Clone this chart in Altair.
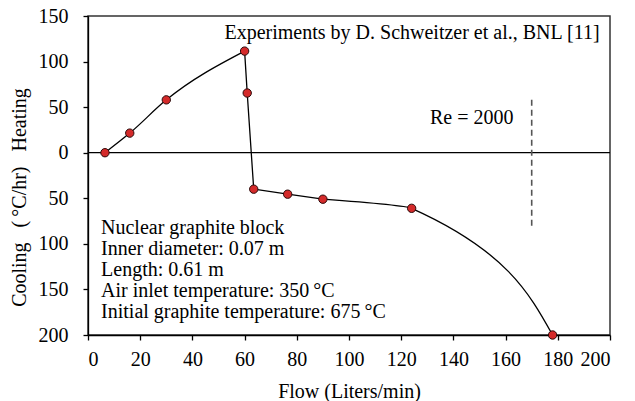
import altair as alt
import pandas as pd

# Data
flow = [6.5, 16, 30, 60, 61, 63.5, 76.5, 90, 124, 178]
rate = [0, 21.5, 58, 111.5, 65.5, -40, -45.5, -51, -61, -200]

y_ticks = [-200, -150, -100, -50, 0, 50, 100, 150]
x_ticks = [0, 20, 40, 60, 80, 100, 120, 140, 160, 180, 200]

re_x = [170]
re_y_top = [58]
re_y_bottom = [-84]

title_text = ["Experiments by D. Schweitzer et al., BNL [11]"]
re_text = ["Re = 2000"]
info_text = ["Nuclear graphite block\nInner diameter: 0.07 m\nLength: 0.61 m\nAir inlet temperature: 350\u2009°C\nInitial graphite temperature: 675\u2009°C"]

FONT = "Liberation Serif"
FS = 20

df = pd.DataFrame({"flow": flow, "rate": rate})
# curve pieces (same measured points, split where the drawn curve changes character)
rise = df.iloc[0:4]
drop = df.iloc[3:6]
flat = df.iloc[5:8]
tail = df.iloc[7:10]

xs = alt.Scale(domain=[0, 200], nice=False, zero=False)
ys = alt.Scale(domain=[-200, 150], nice=False, zero=False)

sp = "\u00a0\u00a0\u00a0"
x_enc = alt.X("flow:Q", scale=xs, axis=alt.Axis(
    values=x_ticks, title="Flow (Liters/min)", grid=False))
y_enc = alt.Y("rate:Q", scale=ys, axis=alt.Axis(
    values=y_ticks, title=f"Cooling{sp}(\u2009°C/hr){sp}Heating", grid=False,
    labelExpr="abs(datum.value)", titleY=181))

LW = 1.3
l_rise = alt.Chart(rise).mark_line(interpolate="monotone", color="black", strokeWidth=LW).encode(
    x=x_enc, y=y_enc)
l_drop = alt.Chart(drop).mark_line(interpolate="linear", color="black", strokeWidth=LW).encode(
    x="flow:Q", y="rate:Q")
l_flat = alt.Chart(flat).mark_line(interpolate="monotone", color="black", strokeWidth=LW).encode(
    x="flow:Q", y="rate:Q")
# tail drawn as a zero-width horizontal area so the curve is monotone in y
l_tail = alt.Chart(tail).mark_area(interpolate="monotone", orient="horizontal", fillOpacity=0,
                                   stroke="black", strokeWidth=LW).encode(
    x="flow:Q", x2="flow:Q", y="rate:Q")

pts = alt.Chart(df).mark_point(filled=True, shape="circle", size=70, fill="#d42a2a",
                               stroke="#2a0a0a", strokeWidth=1, opacity=1).encode(
    x="flow:Q", y="rate:Q")

zero = alt.Chart(pd.DataFrame({"rate": [0]})).mark_rule(color="black", strokeWidth=1.3).encode(
    y="rate:Q")

dash_df = pd.DataFrame({"flow": re_x, "top": re_y_top, "bottom": re_y_bottom})
dash = alt.Chart(dash_df).mark_rule(color="#555555", strokeWidth=1.6, strokeDash=[6, 4]).encode(
    x="flow:Q", y="top:Q", y2="bottom:Q")

t1 = alt.Chart(pd.DataFrame({"flow": [196], "rate": [131.5], "t": title_text})).mark_text(
    align="right", baseline="middle", font=FONT, fontSize=FS, color="black").encode(
    x="flow:Q", y="rate:Q", text="t:N")

t2 = alt.Chart(pd.DataFrame({"flow": [163], "rate": [38], "t": re_text})).mark_text(
    align="right", baseline="middle", font=FONT, fontSize=FS, color="black").encode(
    x="flow:Q", y="rate:Q", text="t:N")

t3 = alt.Chart(pd.DataFrame({"flow": [5], "rate": [-82.5], "t": info_text})).mark_text(
    align="left", baseline="middle", font=FONT, fontSize=FS, color="black",
    lineBreak="\n", lineHeight=21).encode(
    x="flow:Q", y="rate:Q", text="t:N")

chart = alt.layer(l_rise, l_drop, l_flat, l_tail, zero, dash, pts, t1, t2, t3).properties(
    width=522, height=319,
    autosize=alt.AutoSizeParams(type="none"),
    padding={"left": 88, "top": 16, "right": 25, "bottom": 66},
    background="white",
).configure_view(
    stroke="#333333", strokeWidth=1.5
).configure_axis(
    domainColor="black", domainWidth=1.3, tickColor="black", tickWidth=1.3, tickSize=5,
    labelFont=FONT, labelFontSize=FS, labelColor="black",
    titleFont=FONT, titleFontSize=FS, titleFontWeight="normal", titleColor="black",
).configure_axisX(
    labelPadding=9, titlePadding=12
).configure_axisY(
    labelPadding=15, titlePadding=9
)

chart.save("out.html", embed_options={"renderer": "svg", "actions": False})
